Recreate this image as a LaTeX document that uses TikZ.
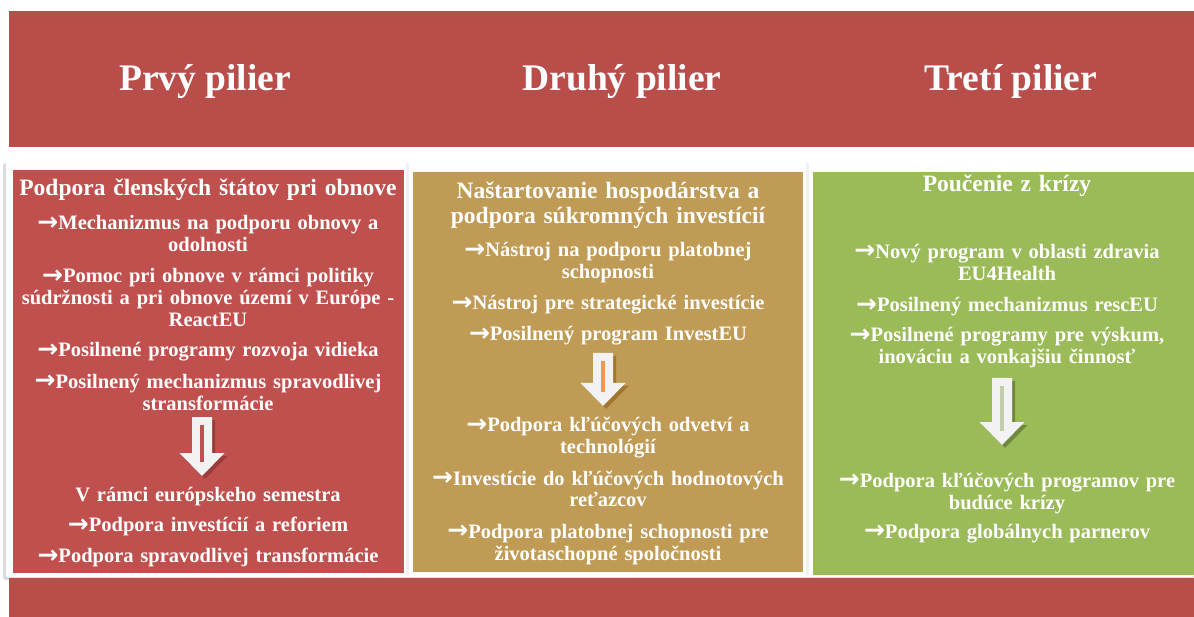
\documentclass[tikz,border=0pt]{standalone}
\usepackage{fontspec}
\setmainfont{Liberation Serif}
\newfontfamily\arrfont{DejaVu Sans}
\newcommand{\myarr}{{\arrfont\bfseries\fontsize{25}{21}\selectfont\raisebox{-0.5pt}{→}}}
\definecolor{banner}{HTML}{B84D4A}
\definecolor{colred}{HTML}{C0504D}
\definecolor{colgold}{HTML}{BF9B55}
\definecolor{colgreen}{HTML}{9BBB59}
\definecolor{arrwhite}{HTML}{F2F2F2}
\definecolor{shred}{HTML}{9A3D3A}
\definecolor{shgold}{HTML}{A3762F}
\definecolor{shgreen}{HTML}{71893F}
\definecolor{slitgold}{HTML}{F79646}
\definecolor{slitgreen}{HTML}{C3CDA8}
\tikzset{
  hdr/.style={font=\fontsize{37.5}{44}\selectfont\bfseries, text=white, inner sep=0pt},
  ttl/.style={font=\fontsize{23.5}{25}\selectfont\bfseries, text=white, inner sep=0pt, align=center, text width=420pt},
  itm/.style={font=\fontsize{20.5}{21.8}\selectfont\bfseries, text=white, inner sep=0pt, align=center, text width=420pt},
  pics/downarrow/.style args={#1/#2/#3}{code={
    \fill[#2] (-7,3) -- (13,3) -- (13,#1+3) -- (25.5,#1+3) -- (3,#1+26) -- (-19.5,#1+3) -- (-7,#1+3) -- cycle;
    \fill[arrwhite] (-10,0) -- (10,0) -- (10,#1) -- (22.5,#1) -- (0,#1+23) -- (-22.5,#1) -- (-10,#1) -- cycle;
    \fill[#3] (-2.3,8) rectangle (2.3,#1+9);
  }}
}
\begin{document}
\begin{tikzpicture}[x=1pt,y=-1pt]
\useasboundingbox (0,0) rectangle (1194,617);
\fill[white] (0,0) rectangle (1194,617);
% banners
\fill[banner] (9,11) rectangle (1194,147);
% cards
\fill[black!14, rounded corners=3pt] (3,163) rectangle (1194,580);
\fill[white, rounded corners=2pt] (6,161) rectangle (1194,577);
\fill[black!6] (406,163) rectangle (409,575);
\fill[black!6] (806,163) rectangle (809,575);
\fill[banner] (9,578) rectangle (1194,617);
% columns
\fill[colred] (13,170) rectangle (404,573);
\fill[colgold] (413,172) rectangle (803,572);
\fill[colgreen] (813,172) rectangle (1194,575);
% headers
\node[hdr, anchor=base] (h1) at (205,91) {Prvý pilier};
\node[hdr, anchor=base] (h2) at (622,91) {Druhý pilier};
\node[hdr, anchor=base] (h3) at (1011,91) {Tretí pilier};
% column 1
\node[ttl, anchor=base] (c1t) at (208,196) {Podpora členských štátov pri obnove};
\node[itm, anchor=base] (c1a) at (208,230) {\myarr Mechanizmus na podporu obnovy a\\odolnosti};
\node[itm, anchor=base] (c1b) at (208,282.7) {\myarr Pomoc pri obnove v rámci politiky\\súdržnosti a pri obnove území v Európe -\\ReactEU};
\node[itm, anchor=base] (c1c) at (208,356.7) {\myarr Posilnené programy rozvoja vidieka};
\node[itm, anchor=base] (c1d) at (208,388.3) {\myarr Posilnený mechanizmus spravodlivej\\stransformácie};
\pic at (202,417) {downarrow=36/shred/colred};
\node[itm, anchor=base] (c1e) at (208,501.7) {V rámci európskeho semestra};
\node[itm, anchor=base] (c1f) at (208,531.7) {\myarr Podpora investícií a reforiem};
\node[itm, anchor=base] (c1g) at (208,562.7) {\myarr Podpora spravodlivej transformácie};
% column 2
\node[ttl, anchor=base] (c2t) at (608,198.3) {Naštartovanie hospodárstva a\\podpora súkromných investícií};
\node[itm, anchor=base] (c2a) at (608,256.7) {\myarr Nástroj na podporu platobnej\\schopnosti};
\node[itm, anchor=base] (c2b) at (608,310) {\myarr Nástroj pre strategické investície};
\node[itm, anchor=base] (c2c) at (608,340.7) {\myarr Posilnený program InvestEU};
\pic at (603,353) {downarrow=30/shgold/slitgold};
\node[itm, anchor=base] (c2d) at (608,431.7) {\myarr Podpora kľúčových odvetví a\\technológií};
\node[itm, anchor=base] (c2e) at (608,485) {\myarr Investície do kľúčových hodnotových\\reťazcov};
\node[itm, anchor=base] (c2f) at (608,538.3) {\myarr Podpora platobnej schopnosti pre\\životaschopné spoločnosti};
% column 3
\node[ttl, anchor=base] (c3t) at (1007,191.7) {Poučenie z krízy};
\node[itm, anchor=base] (c3a) at (1007,258.3) {\myarr Nový program v oblasti zdravia\\EU4Health};
\node[itm, anchor=base] (c3b) at (1007,311.7) {\myarr Posilnený mechanizmus rescEU};
\node[itm, anchor=base] (c3c) at (1007,341.7) {\myarr Posilnené programy pre výskum,\\inováciu a vonkajšiu činnosť};
\pic at (1002,378) {downarrow=44/shgreen/slitgreen};
\node[itm, anchor=base] (c3d) at (1007,487.3) {\myarr Podpora kľúčových programov pre\\budúce krízy};
\node[itm, anchor=base] (c3e) at (1007,538.3) {\myarr Podpora globálnych parnerov};
\end{tikzpicture}
\end{document}
